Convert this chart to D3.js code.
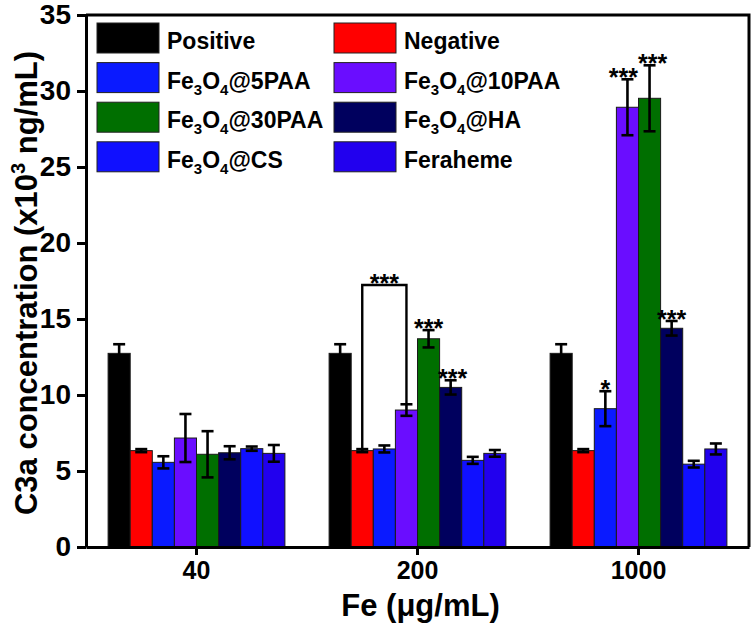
<!DOCTYPE html>
<html>
<head>
<meta charset="utf-8">
<script src="https://cdn.jsdelivr.net/npm/d3@7"></script>
<style>
  html, body { margin: 0; padding: 0; background: #fff; }
  text { font-family: "Liberation Sans", Arial, sans-serif; font-weight: bold; }
</style>
</head>
<body>
<svg id="chart" width="754" height="626"></svg>
<script>
// ---------- data ----------
const categories = ["40", "200", "1000"];
const series = ["Positive", "Negative", "Fe3O4@5PAA", "Fe3O4@10PAA", "Fe3O4@30PAA", "Fe3O4@HA", "Fe3O4@CS", "Feraheme"];
const colors = ["#000000", "#ff0000", "#0a1aff", "#6a0dff", "#006f00", "#00005e", "#1010ff", "#2200ee"];
const means40   = [12.74, 6.34, 5.57, 7.17, 6.10, 6.20, 6.47, 6.16];
const errs40    = [0.60, 0.10, 0.40, 1.58, 1.52, 0.43, 0.14, 0.55];
const means200  = [12.74, 6.34, 6.45, 9.01, 13.70, 10.50, 5.70, 6.16];
const errs200   = [0.60, 0.10, 0.23, 0.38, 0.57, 0.47, 0.23, 0.22];
const means1000 = [12.74, 6.34, 9.10, 28.93, 29.52, 14.39, 5.45, 6.45];
const errs1000  = [0.60, 0.10, 1.15, 1.84, 2.17, 0.48, 0.22, 0.36];
const yTicks = [0, 5, 10, 15, 20, 25, 30, 35];
const starMarks = [
  { cat: "200", s: "Fe3O4@30PAA", label: "***", dx: 0 },
  { cat: "200", s: "Fe3O4@HA", label: "***", dx: 2 },
  { cat: "1000", s: "Fe3O4@5PAA", label: "*", dx: 0 },
  { cat: "1000", s: "Fe3O4@10PAA", label: "***", dx: -4 },
  { cat: "1000", s: "Fe3O4@30PAA", label: "***", dx: 3 },
  { cat: "1000", s: "Fe3O4@HA", label: "***", dx: 0 }
];
const bracket = { cat: "200", from: "Negative", to: "Fe3O4@10PAA", top: 17.24, label: "***" };
const xTitle = "Fe (μg/mL)";

// ---------- build ----------
const meansBy = { "40": means40, "200": means200, "1000": means1000 };
const errsBy = { "40": errs40, "200": errs200, "1000": errs1000 };
const rows = [];
categories.forEach(c => series.forEach((s, i) => rows.push({ cat: c, s, i, v: meansBy[c][i], e: errsBy[c][i] })));
const find = (c, s) => rows.find(r => r.cat === c && r.s === s);

const svg = d3.select("#chart");
const L = 86, R = 749, T = 15, B = 547;

const y = d3.scaleLinear().domain([0, 35]).range([B, T]);
const x0 = d3.scaleBand().domain(categories).range([L, R]).paddingInner(0.2).paddingOuter(0.1);
const x1 = d3.scaleBand().domain(series).range([0, x0.bandwidth()]);
const color = d3.scaleOrdinal().domain(series).range(colors);
const cx = r => x0(r.cat) + x1(r.s) + x1.bandwidth() / 2;

// bars
svg.append("g").selectAll("rect").data(rows).join("rect")
  .attr("x", r => x0(r.cat) + x1(r.s))
  .attr("y", r => y(r.v))
  .attr("width", x1.bandwidth())
  .attr("height", r => y(0) - y(r.v))
  .attr("fill", r => color(r.s))
  .attr("stroke", "#1a1a1a")
  .attr("stroke-width", 1);

// error bars
const eg = svg.append("g").attr("stroke", "#000").attr("stroke-width", 2.6);
const capW = 6;
rows.forEach(r => {
  const x = cx(r);
  eg.append("line").attr("x1", x).attr("x2", x).attr("y1", y(r.v + r.e)).attr("y2", y(r.v - r.e));
  eg.append("line").attr("x1", x - capW).attr("x2", x + capW).attr("y1", y(r.v + r.e)).attr("y2", y(r.v + r.e));
  eg.append("line").attr("x1", x - capW).attr("x2", x + capW).attr("y1", y(r.v - r.e)).attr("y2", y(r.v - r.e));
});

// stars
starMarks.forEach(m => {
  const r = find(m.cat, m.s);
  svg.append("text").attr("x", cx(r) + m.dx).attr("y", y(r.v + r.e) - 7 + 14)
    .attr("text-anchor", "middle").attr("font-size", 25).text(m.label);
});

// bracket
{
  const a = find(bracket.cat, bracket.from), b = find(bracket.cat, bracket.to);
  const xa = cx(a), xb = cx(b), yt = y(bracket.top);
  svg.append("path")
    .attr("d", `M${xa},${y(a.v)}V${yt}H${xb}V${y(b.v + b.e)}`)
    .attr("fill", "none").attr("stroke", "#000").attr("stroke-width", 2.4);
  svg.append("text").attr("x", (xa + xb) / 2).attr("y", yt - 7 + 14)
    .attr("text-anchor", "middle").attr("font-size", 25).text(bracket.label);
}

// axes
const yAxis = svg.append("g").attr("transform", `translate(${L},0)`)
  .call(d3.axisLeft(y).tickValues(yTicks).tickSize(9).tickSizeOuter(0).tickPadding(6));
const xAxis = svg.append("g").attr("transform", `translate(0,${B})`)
  .call(d3.axisBottom(x0).tickSize(8).tickSizeOuter(0).tickPadding(6));
[yAxis, xAxis].forEach(g => {
  g.selectAll("path.domain").attr("stroke", "#000").attr("stroke-width", 3);
  g.selectAll(".tick line").attr("stroke", "#000").attr("stroke-width", 3);
  g.selectAll(".tick text").attr("fill", "#000").attr("font-family", "Liberation Sans, Arial, sans-serif").attr("font-weight", "bold");
});
yAxis.selectAll(".tick text").attr("font-size", 28);
xAxis.selectAll(".tick text").attr("font-size", 25);
// frame top/right
svg.append("path").attr("d", `M${L},${T}H${R}V${B}`).attr("fill", "none").attr("stroke", "#000").attr("stroke-width", 3);

// axis titles
svg.append("text").attr("x", (L + R) / 2 + 3).attr("y", 616).attr("text-anchor", "middle")
  .attr("font-size", 31).text(xTitle);
const yt = svg.append("text").attr("transform", `translate(37,${(T + B) / 2 + 2}) rotate(-90)`)
  .attr("text-anchor", "middle").attr("font-size", 31);
yt.append("tspan").text("C3a concentration (x10");
yt.append("tspan").attr("font-size", 20).attr("dy", -12).text("3");
yt.append("tspan").attr("dy", 12).text(" ng/mL)");

// legend
function richLabel(sel, name) {
  const m = name.match(/^Fe3O4(.*)$/);
  if (!m) { sel.text(name); return; }
  sel.append("tspan").text("Fe");
  sel.append("tspan").attr("font-size", 15).attr("dy", 6).text("3");
  sel.append("tspan").attr("dy", -6).text("O");
  sel.append("tspan").attr("font-size", 15).attr("dy", 6).text("4");
  sel.append("tspan").attr("dy", -6).text(m[1]);
}
const lg = svg.append("g");
series.forEach((s, i) => {
  const col = i % 2, row = Math.floor(i / 2);
  const sx = col === 0 ? 97 : 334, sy = 23 + row * 39.6;
  lg.append("rect").attr("x", sx).attr("y", sy).attr("width", 62).attr("height", 30)
    .attr("fill", color(s)).attr("stroke", "#222").attr("stroke-width", 1);
  const t = lg.append("text").attr("x", sx + 70).attr("y", sy + 26).attr("font-size", 23);
  richLabel(t, s);
});
</script>
</body>
</html>
